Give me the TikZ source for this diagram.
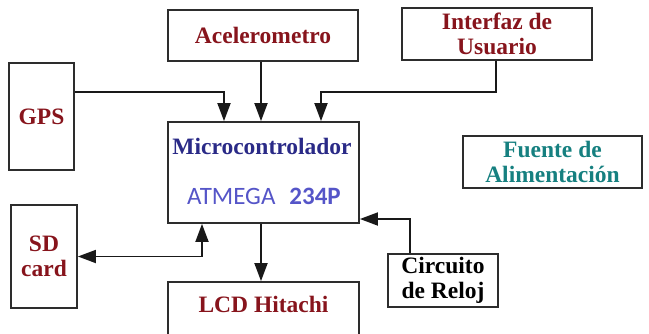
\documentclass[tikz,border=0pt]{standalone}
\usepackage{fontspec}
\setmainfont{Liberation Serif}
\newfontfamily\atmfont{Carlito}
\usetikzlibrary{arrows.meta}

\definecolor{labelred}{RGB}{135,20,28}
\definecolor{labelblue}{RGB}{42,42,135}
\definecolor{labelteal}{RGB}{22,128,128}
\definecolor{atmblue}{RGB}{85,85,200}
\definecolor{boxline}{RGB}{45,45,45}

\begin{document}
\begin{tikzpicture}[
    x=1pt, y=-1pt,
    font=\fontsize{23.5}{25}\selectfont\bfseries,
    >={Triangle[length=18pt, width=13pt]},
    block/.style={rectangle, draw=boxline, line width=1.8pt, align=center, inner sep=0pt},
    arrow/.style={->, line width=1.8pt, draw=black!90}
]
    \useasboundingbox (0,0) rectangle (649,333);
    \clip (0,0) rectangle (649,333);

    % Inputs
    \node (acel) [block, minimum width=190pt, minimum height=51pt, text=labelred] at (263,35.5) {Acelerometro};
    \node (interfaz) [block, minimum width=190pt, minimum height=52pt, text=labelred] at (497,34) {Interfaz de\\Usuario};
    \node (gps) [block, minimum width=65pt, minimum height=107pt, text=labelred] at (41.5,116.5) {GPS};

    % Microcontroller
    \node (micro) [block, minimum width=191pt, minimum height=101pt] at (263.5,172.5) {};
    \node (microname) [text=labelblue] at (262,146) {Microcontrolador};
    \node (atm) [text=atmblue, font=\atmfont\fontsize{25}{25}\selectfont] at (264,196) {ATMEGA\,\, \textbf{234P}};

    % Power supply
    \node (fuente) [block, minimum width=179pt, minimum height=52pt, text=labelteal] at (552.5,162) {Fuente de\\Alimentación};

    % Peripherals
    \node (sd) [block, minimum width=66pt, minimum height=103pt, text=labelred] at (44,256.5) {SD\\card};
    \node (lcd) [block, minimum width=191pt, minimum height=62pt, text=labelred] at (263.5,313) {};
    \node (lcdname) [text=labelred] at (263.5,304) {LCD Hitachi};
    \node (reloj) [block, minimum width=110pt, minimum height=53pt] at (443,280.5) {Circuito\\de Reloj};

    % Arrows
    \draw [arrow] ([yshift=24.5pt]gps.east) -| ([xshift=-39.5pt]micro.north);
    \draw [arrow] ([xshift=-2pt]acel.south) -- ([xshift=-2.5pt]micro.north);
    \draw [arrow] ([xshift=-1pt]interfaz.south) -- ++(0,31) -| ([xshift=57.5pt]micro.north);
    \draw [arrow] ([xshift=-2.5pt]micro.south) -- ([xshift=-2.5pt]lcd.north);
    \draw [arrow, <->] ([xshift=-61.5pt]micro.south) |- (sd.east);
    \draw [arrow] ([xshift=-33pt]reloj.north) |- ([yshift=-46.5pt]micro.east);

\end{tikzpicture}
\end{document}
